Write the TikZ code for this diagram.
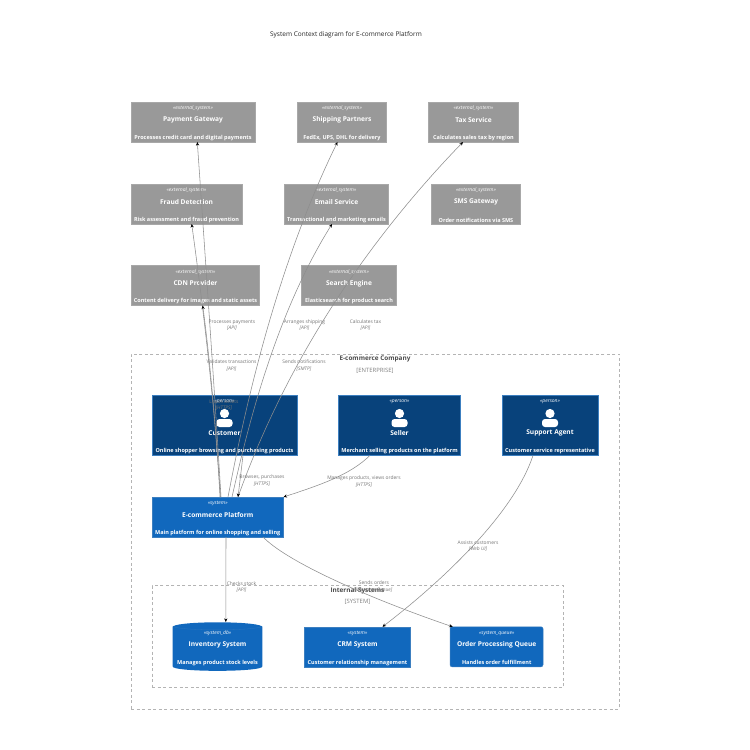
\documentclass[tikz,border=0pt]{standalone}
\usepackage{fontspec}
\setmainfont{Open Sans}
\usetikzlibrary{arrows.meta,shapes.geometric}
\definecolor{extgray}{HTML}{999999}
\definecolor{extline}{HTML}{A8A8A8}
\definecolor{persblue}{HTML}{08427B}
\definecolor{sysblue}{HTML}{1168BD}
\definecolor{sysline}{HTML}{3C7FC0}
\definecolor{relgray}{HTML}{8E8E8E}
\definecolor{labgray}{HTML}{757575}
\definecolor{bndgray}{HTML}{B4B4B4}
\tikzset{
  x=1pt,y=-1pt,
  box/.style={rectangle,inner sep=0pt,outer sep=0pt,line width=.5pt},
  extbox/.style={box,fill=extgray,draw=extline},
  persbox/.style={box,fill=persblue,draw=sysline},
  sysbox/.style={box,fill=sysblue,draw=sysline},
  stereo/.style={text=white,font=\fontsize{5}{5}\selectfont\itshape,inner sep=0pt},
  title/.style={text=white,font=\fontsize{6.6}{7}\selectfont\bfseries,inner sep=0pt},
  desc/.style={text=white,font=\fontsize{5.5}{6}\selectfont\bfseries,inner sep=0pt},
  rel/.style={draw=relgray,line width=.55pt,-{Stealth[length=3.6pt,width=3.2pt,black]}},
  rellab/.style={text=labgray,font=\fontsize{4.9}{6}\selectfont,inner sep=0pt,align=center},
  bnd/.style={draw=bndgray,line width=.7pt,dash pattern=on 3pt off 2.5pt},
  bndtitle/.style={text=black!70,font=\fontsize{6.4}{7}\selectfont\bfseries,inner sep=0pt},
  bndtag/.style={text=black!50,font=\fontsize{5.9}{6}\selectfont,inner sep=0pt},
}
\newcommand{\boxtexts}[6]{% name, cx, top, stereo, title, desc
  \node[stereo] (#1s) at (#2,#3+6.5) {«#4»};
  \node[title] (#1t) at (#2,#3+18) {#5};
  \node[desc] (#1d) at (#2,#3+36) {#6};
}
\newcommand{\persontexts}[6]{% name, cx, top, stereo, title, desc
  \node[stereo] (#1s) at (#2,#3+7) {«#4»};
  \fill[white] (#2,#3+18.5) circle (4.6);
  \fill[white,rounded corners=3pt] (#2-8,#3+32) -- (#2-8,#3+24) -- (#2+8,#3+24) -- (#2+8,#3+32) -- cycle;
  \node[title] (#1t) at (#2,#3+38) {#5};
  \node[desc] (#1d) at (#2,#3+56) {#6};
}
\begin{document}
\begin{tikzpicture}
\useasboundingbox[fill=white] (0,0) rectangle (750,750);

\node[text=black!85,font=\fontsize{6.5}{7}\selectfont,inner sep=0pt] (diagtitle) at (346,34.5) {System Context diagram for E-commerce Platform};

% boundaries
\node[bnd,rectangle,anchor=north west,minimum width=488pt,minimum height=355pt,inner sep=0pt] (ent) at (131,353.5) {};
\node[bnd,rectangle,anchor=north west,minimum width=411pt,minimum height=102pt,inner sep=0pt] (intl) at (152,585.3) {};
\node[bndtitle] (entt) at (375,358.5) {E-commerce Company};
\node[bndtag] (enttag) at (375,371) {[ENTERPRISE]};
\node[bndtitle] (intt) at (357.5,590.5) {Internal Systems};
\node[bndtag] (inttag) at (357.5,601.5) {[SYSTEM]};

% relation labels
\node[rellab] (lpay) at (232,325) {Processes payments\\[.6pt]\textit{[API]}};
\node[rellab] (lship) at (304.5,325) {Arranges shipping\\[.6pt]\textit{[API]}};
\node[rellab] (ltax) at (365.5,325) {Calculates tax\\[.6pt]\textit{[API]}};
\node[rellab] (lfraud) at (231.5,365.5) {Validates transactions\\[.6pt]\textit{[API]}};
\node[rellab] (lmail) at (304,365.5) {Sends notifications\\[.6pt]\textit{[SMTP]}};

% external systems
\node[extbox,minimum width=124pt,minimum height=40pt,anchor=north west] (pay) at (131,102) {};
\node[extbox,minimum width=89.5pt,minimum height=40pt,anchor=north west] (ship) at (297,102) {};
\node[extbox,minimum width=90.5pt,minimum height=40pt,anchor=north west] (tax) at (428,102) {};
\node[extbox,minimum width=111pt,minimum height=40pt,anchor=north west] (fraud) at (131,184) {};
\node[extbox,minimum width=104.5pt,minimum height=40pt,anchor=north west] (mail) at (284,184) {};
\node[extbox,minimum width=89.5pt,minimum height=40pt,anchor=north west] (sms) at (431,184) {};
\node[extbox,minimum width=128.5pt,minimum height=40pt,anchor=north west] (cdn) at (131,265.5) {};
\node[extbox,minimum width=95.5pt,minimum height=40pt,anchor=north west] (search) at (301,265.5) {};

% persons
\node[persbox,minimum width=145pt,minimum height=60.5pt,anchor=north west] (cust) at (152,395) {};
\node[persbox,minimum width=122.7pt,minimum height=60.5pt,anchor=north west] (sell) at (338,395) {};
\node[persbox,minimum width=96pt,minimum height=60.5pt,anchor=north west] (supp) at (502,395) {};

% system boxes
\node[sysbox,minimum width=131.5pt,minimum height=40pt,anchor=north west] (plat) at (152,497) {};
\node[sysbox,minimum width=106pt,minimum height=40pt,anchor=north west] (crm) at (304.5,626.8) {};
\node[sysbox,rounded corners=2pt,minimum width=93pt,minimum height=40pt,anchor=north west] (queue) at (450,626.8) {};
% database cylinder
\path[fill=sysblue,rounded corners=.6pt] (172.7,626.5) .. controls (182,621) and (253,621) .. (262.3,626.5) -- (262.3,667) .. controls (253,672) and (182,672) .. (172.7,667) -- cycle;
\path[draw=sysline!60!sysblue,line width=.3pt] (172.7,626.5) .. controls (182,631) and (253,631) .. (262.3,626.5);
\node[inner sep=0pt,minimum width=89.6pt,minimum height=49pt] (inv) at (217.5,646.7) {};

% texts of boxes
\boxtexts{pay}{193}{102}{external\_system}{Payment Gateway}{Processes credit card and digital payments}
\boxtexts{ship}{342}{102}{external\_system}{Shipping Partners}{FedEx, UPS, DHL for delivery}
\boxtexts{tax}{473.5}{102}{external\_system}{Tax Service}{Calculates sales tax by region}
\boxtexts{fraud}{186.5}{184}{external\_system}{Fraud Detection}{Risk assessment and fraud prevention}
\boxtexts{mail}{336.5}{184}{external\_system}{Email Service}{Transactional and marketing emails}
\boxtexts{sms}{476}{184}{external\_system}{SMS Gateway}{Order notifications via SMS}
\boxtexts{cdn}{195.5}{265.5}{external\_system}{CDN Provider}{Content delivery for images and static assets}
\boxtexts{search}{349}{265.5}{external\_system}{Search Engine}{Elasticsearch for product search}
\persontexts{cust}{224.5}{395}{person}{Customer}{Online shopper browsing and purchasing products}
\persontexts{sell}{399.5}{395}{person}{Seller}{Merchant selling products on the platform}
\persontexts{supp}{550}{395}{person}{Support Agent}{Customer service representative}
\boxtexts{plat}{217.7}{497}{system}{E-commerce Platform}{Main platform for online shopping and selling}
\boxtexts{inv}{217.5}{626.8}{system\_db}{Inventory System}{Manages product stock levels}
\boxtexts{crm}{357.5}{626.8}{system}{CRM System}{Customer relationship management}
\boxtexts{queue}{496.7}{626.8}{system\_queue}{Order Processing Queue}{Handles order fulfillment}

% connectors
\draw[rel] ([xshift=69pt]plat.north west) .. controls (217,430) and (209,310) .. ([xshift=66.3pt]pay.south west);
\draw[rel] ([xshift=68pt]plat.north west) .. controls (216,420) and (205,320) .. ([xshift=60.7pt]fraud.south west);
\draw[rel] ([xshift=68.5pt]plat.north west) .. controls (216,430) and (210,360) .. ([xshift=71.7pt]cdn.south west);
\draw[rel] ([xshift=76pt]plat.north west) .. controls (240,435) and (270,280) .. ([xshift=40.5pt]ship.south west);
\draw[rel] ([xshift=80pt]plat.north west) .. controls (245,440) and (272,320) .. ([xshift=48pt]mail.south west);
\draw[rel] ([xshift=86pt]plat.north west) .. controls (262,430) and (320,290) .. ([xshift=35pt]tax.south west);
\draw[rel] ([xshift=91pt]cust.south west) -- ([xshift=86pt]plat.north west);
\draw[rel] ([xshift=-29.5pt]sell.south) .. controls (350,475) and (320,485) .. (plat.north east);
\draw[rel] ([xshift=-17pt]supp.south) .. controls (515,510) and (450,575) .. ([xshift=78pt]crm.north west);
\draw[rel] ([xshift=74pt]plat.south west) -- ([xshift=53.3pt]inv.north west);
\draw[rel] ([xshift=-20.4pt]plat.south east) .. controls (285,560) and (360,595) .. ([xshift=2.7pt]queue.north west);

\node[rellab] (lcdn) at (224,405) {Loads assets\\[.6pt]\textit{[HTTPS]}};
\node[rellab] (lbrowse) at (262,480.5) {Browses, purchases\\[.6pt]\textit{[HTTPS]}};
\node[rellab] (lsell) at (364,481.5) {Manages products, views orders\\[.6pt]\textit{[HTTPS]}};
\node[rellab] (lassist) at (478,546) {Assists customers\\[.6pt]\textit{[Web UI]}};
\node[rellab] (lstock) at (241.5,587) {Checks stock\\[.6pt]\textit{[API]}};
\node[rellab] (lorders) at (374,587) {Sends orders\\[.6pt]\textit{[Message Queue]}};
\end{tikzpicture}
\end{document}
